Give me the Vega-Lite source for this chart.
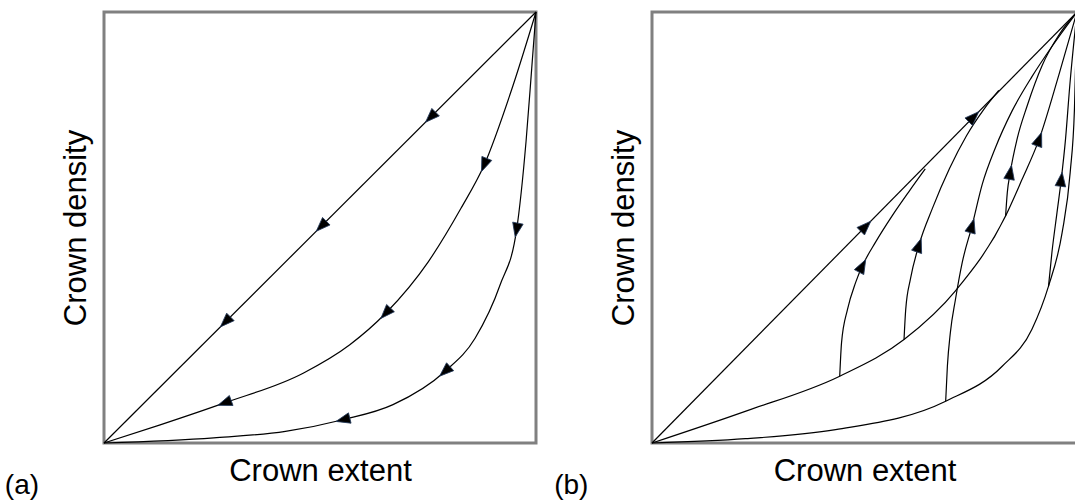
{
  "$schema": "https://vega.github.io/schema/vega-lite/v6.json",
  "background": "white",
  "padding": {"left": 3, "top": 8, "right": 0, "bottom": 0},
  "spacing": 12,
  "config": {
    "view": {"stroke": "#808080", "strokeWidth": 3},
    "axis": {"domain": false, "ticks": false, "labels": false, "grid": false, "titleFont": "Liberation Sans", "titleFontSize": 31, "titleFontWeight": "normal", "titleColor": "#000000"},
    "axisX": {"titlePadding": 13},
    "axisY": {"titlePadding": 12},
    "text": {"font": "Liberation Sans"}
  },
  "datasets": {
    "curves": [
      {"panel": "a", "curve": "a1", "i": 0, "x": 0, "y": 0},
      {"panel": "a", "curve": "a1", "i": 1, "x": 1, "y": 1},
      {"panel": "a", "curve": "a2", "i": 0, "x": 0, "y": 0},
      {"panel": "a", "curve": "a2", "i": 1, "x": 0.13, "y": 0.042},
      {"panel": "a", "curve": "a2", "i": 2, "x": 0.279, "y": 0.093},
      {"panel": "a", "curve": "a2", "i": 3, "x": 0.461, "y": 0.162},
      {"panel": "a", "curve": "a2", "i": 4, "x": 0.569, "y": 0.228},
      {"panel": "a", "curve": "a2", "i": 5, "x": 0.652, "y": 0.301},
      {"panel": "a", "curve": "a2", "i": 6, "x": 0.751, "y": 0.421},
      {"panel": "a", "curve": "a2", "i": 7, "x": 0.826, "y": 0.544},
      {"panel": "a", "curve": "a2", "i": 8, "x": 0.88, "y": 0.645},
      {"panel": "a", "curve": "a2", "i": 9, "x": 0.947, "y": 0.83},
      {"panel": "a", "curve": "a2", "i": 10, "x": 1, "y": 1},
      {"panel": "a", "curve": "a3", "i": 0, "x": 0, "y": 0},
      {"panel": "a", "curve": "a3", "i": 1, "x": 0.254, "y": 0.012},
      {"panel": "a", "curve": "a3", "i": 2, "x": 0.42, "y": 0.027},
      {"panel": "a", "curve": "a3", "i": 3, "x": 0.553, "y": 0.054},
      {"panel": "a", "curve": "a3", "i": 4, "x": 0.669, "y": 0.089},
      {"panel": "a", "curve": "a3", "i": 5, "x": 0.789, "y": 0.166},
      {"panel": "a", "curve": "a3", "i": 6, "x": 0.859, "y": 0.243},
      {"panel": "a", "curve": "a3", "i": 7, "x": 0.917, "y": 0.367},
      {"panel": "a", "curve": "a3", "i": 8, "x": 0.955, "y": 0.494},
      {"panel": "a", "curve": "a3", "i": 9, "x": 0.977, "y": 0.7},
      {"panel": "a", "curve": "a3", "i": 10, "x": 0.99, "y": 0.868},
      {"panel": "a", "curve": "a3", "i": 11, "x": 1, "y": 1},
      {"panel": "b", "curve": "b1", "i": 0, "x": 0, "y": 0},
      {"panel": "b", "curve": "b1", "i": 1, "x": 1, "y": 1},
      {"panel": "b", "curve": "b2", "i": 0, "x": 0, "y": 0},
      {"panel": "b", "curve": "b2", "i": 1, "x": 0.221, "y": 0.074},
      {"panel": "b", "curve": "b2", "i": 2, "x": 0.4417, "y": 0.155},
      {"panel": "b", "curve": "b2", "i": 3, "x": 0.593, "y": 0.24},
      {"panel": "b", "curve": "b2", "i": 4, "x": 0.714, "y": 0.353},
      {"panel": "b", "curve": "b2", "i": 5, "x": 0.832, "y": 0.527},
      {"panel": "b", "curve": "b2", "i": 6, "x": 0.87, "y": 0.61},
      {"panel": "b", "curve": "b2", "i": 7, "x": 0.911, "y": 0.705},
      {"panel": "b", "curve": "b2", "i": 8, "x": 0.957, "y": 0.853},
      {"panel": "b", "curve": "b2", "i": 9, "x": 1, "y": 1},
      {"panel": "b", "curve": "b3", "i": 0, "x": 0, "y": 0},
      {"panel": "b", "curve": "b3", "i": 1, "x": 0.22, "y": 0.01},
      {"panel": "b", "curve": "b3", "i": 2, "x": 0.432, "y": 0.031},
      {"panel": "b", "curve": "b3", "i": 3, "x": 0.691, "y": 0.097},
      {"panel": "b", "curve": "b3", "i": 4, "x": 0.824, "y": 0.178},
      {"panel": "b", "curve": "b3", "i": 5, "x": 0.894, "y": 0.264},
      {"panel": "b", "curve": "b3", "i": 6, "x": 0.933, "y": 0.364},
      {"panel": "b", "curve": "b3", "i": 7, "x": 0.965, "y": 0.488},
      {"panel": "b", "curve": "b3", "i": 8, "x": 0.984, "y": 0.628},
      {"panel": "b", "curve": "b3", "i": 9, "x": 0.994, "y": 0.775},
      {"panel": "b", "curve": "b3", "i": 10, "x": 1, "y": 1},
      {"panel": "b", "curve": "v1", "i": 0, "x": 0.4417, "y": 0.155},
      {"panel": "b", "curve": "v1", "i": 1, "x": 0.446, "y": 0.233},
      {"panel": "b", "curve": "v1", "i": 2, "x": 0.46, "y": 0.31},
      {"panel": "b", "curve": "v1", "i": 3, "x": 0.479, "y": 0.372},
      {"panel": "b", "curve": "v1", "i": 4, "x": 0.495, "y": 0.411},
      {"panel": "b", "curve": "v1", "i": 5, "x": 0.526, "y": 0.466},
      {"panel": "b", "curve": "v1", "i": 6, "x": 0.565, "y": 0.527},
      {"panel": "b", "curve": "v1", "i": 7, "x": 0.605, "y": 0.584},
      {"panel": "b", "curve": "v1", "i": 8, "x": 0.643, "y": 0.636},
      {"panel": "b", "curve": "v2", "i": 0, "x": 0.593, "y": 0.24},
      {"panel": "b", "curve": "v2", "i": 1, "x": 0.597, "y": 0.31},
      {"panel": "b", "curve": "v2", "i": 2, "x": 0.608, "y": 0.38},
      {"panel": "b", "curve": "v2", "i": 3, "x": 0.628, "y": 0.459},
      {"panel": "b", "curve": "v2", "i": 4, "x": 0.66, "y": 0.545},
      {"panel": "b", "curve": "v2", "i": 5, "x": 0.7, "y": 0.637},
      {"panel": "b", "curve": "v2", "i": 6, "x": 0.74, "y": 0.713},
      {"panel": "b", "curve": "v2", "i": 7, "x": 0.78, "y": 0.773},
      {"panel": "b", "curve": "v2", "i": 8, "x": 0.816, "y": 0.818},
      {"panel": "b", "curve": "v3", "i": 0, "x": 0.691, "y": 0.097},
      {"panel": "b", "curve": "v3", "i": 1, "x": 0.695, "y": 0.178},
      {"panel": "b", "curve": "v3", "i": 2, "x": 0.702, "y": 0.256},
      {"panel": "b", "curve": "v3", "i": 3, "x": 0.714, "y": 0.333},
      {"panel": "b", "curve": "v3", "i": 4, "x": 0.73, "y": 0.419},
      {"panel": "b", "curve": "v3", "i": 5, "x": 0.753, "y": 0.504},
      {"panel": "b", "curve": "v3", "i": 6, "x": 0.777, "y": 0.6},
      {"panel": "b", "curve": "v3", "i": 7, "x": 0.808, "y": 0.685},
      {"panel": "b", "curve": "v3", "i": 8, "x": 0.847, "y": 0.77},
      {"panel": "b", "curve": "v3", "i": 9, "x": 0.894, "y": 0.85},
      {"panel": "b", "curve": "v3", "i": 10, "x": 0.941, "y": 0.92},
      {"panel": "b", "curve": "v3", "i": 11, "x": 1, "y": 1},
      {"panel": "b", "curve": "v4", "i": 0, "x": 0.832, "y": 0.527},
      {"panel": "b", "curve": "v4", "i": 1, "x": 0.836, "y": 0.581},
      {"panel": "b", "curve": "v4", "i": 2, "x": 0.843, "y": 0.628},
      {"panel": "b", "curve": "v4", "i": 3, "x": 0.859, "y": 0.705},
      {"panel": "b", "curve": "v4", "i": 4, "x": 0.883, "y": 0.783},
      {"panel": "b", "curve": "v4", "i": 5, "x": 0.918, "y": 0.876},
      {"panel": "b", "curve": "v4", "i": 6, "x": 0.957, "y": 0.946},
      {"panel": "b", "curve": "v4", "i": 7, "x": 1, "y": 1},
      {"panel": "b", "curve": "v5", "i": 0, "x": 0.933, "y": 0.364},
      {"panel": "b", "curve": "v5", "i": 1, "x": 0.941, "y": 0.442},
      {"panel": "b", "curve": "v5", "i": 2, "x": 0.953, "y": 0.535},
      {"panel": "b", "curve": "v5", "i": 3, "x": 0.963, "y": 0.612},
      {"panel": "b", "curve": "v5", "i": 4, "x": 0.973, "y": 0.705},
      {"panel": "b", "curve": "v5", "i": 5, "x": 0.983, "y": 0.829},
      {"panel": "b", "curve": "v5", "i": 6, "x": 1, "y": 1}
    ],
    "arrows": [
      {"panel": "a", "x": 0.756, "y": 0.756, "angle": 225},
      {"panel": "a", "x": 0.503, "y": 0.503, "angle": 225},
      {"panel": "a", "x": 0.281, "y": 0.281, "angle": 225},
      {"panel": "a", "x": 0.279, "y": 0.093, "angle": 250},
      {"panel": "a", "x": 0.652, "y": 0.301, "angle": 223},
      {"panel": "a", "x": 0.88, "y": 0.645, "angle": 202},
      {"panel": "a", "x": 0.553, "y": 0.054, "angle": 256},
      {"panel": "a", "x": 0.789, "y": 0.166, "angle": 228},
      {"panel": "a", "x": 0.955, "y": 0.494, "angle": 191},
      {"panel": "b", "x": 0.503, "y": 0.503, "angle": 45},
      {"panel": "b", "x": 0.757, "y": 0.757, "angle": 45},
      {"panel": "b", "x": 0.495, "y": 0.411, "angle": 28},
      {"panel": "b", "x": 0.628, "y": 0.459, "angle": 19},
      {"panel": "b", "x": 0.753, "y": 0.504, "angle": 16},
      {"panel": "b", "x": 0.843, "y": 0.628, "angle": 10},
      {"panel": "b", "x": 0.911, "y": 0.705, "angle": 20},
      {"panel": "b", "x": 0.963, "y": 0.612, "angle": 7}
    ],
    "labels": [
      {"panel": "a", "x": -0.19, "y": -0.1, "label": "(a)"},
      {"panel": "b", "x": -0.19, "y": -0.1, "label": "(b)"}
    ]
  },
  "hconcat": [
    {
      "width": 432,
      "height": 431,
      "layer": [
        {
          "data": {"name": "curves"},
          "transform": [{"filter": "datum.panel === 'a'"}],
          "mark": {"type": "line", "interpolate": "monotone", "color": "#000000", "strokeWidth": 1.2},
          "encoding": {
            "x": {"field": "x", "type": "quantitative", "scale": {"domain": [0, 1], "nice": false, "zero": false}, "title": "Crown extent"},
            "y": {"field": "y", "type": "quantitative", "scale": {"domain": [0, 1], "nice": false, "zero": false}, "title": "Crown density"},
            "detail": {"field": "curve", "type": "nominal"},
            "order": {"field": "i", "type": "quantitative"}
          }
        },
        {
          "data": {"name": "arrows"},
          "transform": [{"filter": "datum.panel === 'a'"}],
          "mark": {"type": "point", "shape": "M0,-1L0.75,1L-0.75,1Z", "filled": true, "size": 200, "fill": "#000000", "stroke": "#23395b", "strokeWidth": 0.8, "opacity": 1},
          "encoding": {
            "x": {"field": "x", "type": "quantitative", "scale": {"domain": [0, 1], "nice": false, "zero": false}},
            "y": {"field": "y", "type": "quantitative", "scale": {"domain": [0, 1], "nice": false, "zero": false}},
            "angle": {"field": "angle", "type": "quantitative", "scale": null}
          }
        },
        {
          "data": {"name": "labels"},
          "transform": [{"filter": "datum.panel === 'a'"}],
          "mark": {"type": "text", "fontSize": 28, "align": "center", "baseline": "middle", "color": "#000000"},
          "encoding": {
            "x": {"field": "x", "type": "quantitative", "scale": {"domain": [0, 1], "nice": false, "zero": false}},
            "y": {"field": "y", "type": "quantitative", "scale": {"domain": [0, 1], "nice": false, "zero": false}},
            "text": {"field": "label"}
          }
        }
      ]
    },
    {
      "width": 425,
      "height": 431,
      "layer": [
        {
          "data": {"name": "curves"},
          "transform": [{"filter": "datum.panel === 'b'"}],
          "mark": {"type": "line", "interpolate": "monotone", "color": "#000000", "strokeWidth": 1.2},
          "encoding": {
            "x": {"field": "x", "type": "quantitative", "scale": {"domain": [0, 1], "nice": false, "zero": false}, "title": "Crown extent"},
            "y": {"field": "y", "type": "quantitative", "scale": {"domain": [0, 1], "nice": false, "zero": false}, "title": "Crown density"},
            "detail": {"field": "curve", "type": "nominal"},
            "order": {"field": "i", "type": "quantitative"}
          }
        },
        {
          "data": {"name": "arrows"},
          "transform": [{"filter": "datum.panel === 'b'"}],
          "mark": {"type": "point", "shape": "M0,-1L0.75,1L-0.75,1Z", "filled": true, "size": 200, "fill": "#000000", "stroke": "#23395b", "strokeWidth": 0.8, "opacity": 1},
          "encoding": {
            "x": {"field": "x", "type": "quantitative", "scale": {"domain": [0, 1], "nice": false, "zero": false}},
            "y": {"field": "y", "type": "quantitative", "scale": {"domain": [0, 1], "nice": false, "zero": false}},
            "angle": {"field": "angle", "type": "quantitative", "scale": null}
          }
        },
        {
          "data": {"name": "labels"},
          "transform": [{"filter": "datum.panel === 'b'"}],
          "mark": {"type": "text", "fontSize": 28, "align": "center", "baseline": "middle", "color": "#000000"},
          "encoding": {
            "x": {"field": "x", "type": "quantitative", "scale": {"domain": [0, 1], "nice": false, "zero": false}},
            "y": {"field": "y", "type": "quantitative", "scale": {"domain": [0, 1], "nice": false, "zero": false}},
            "text": {"field": "label"}
          }
        }
      ]
    }
  ]
}
